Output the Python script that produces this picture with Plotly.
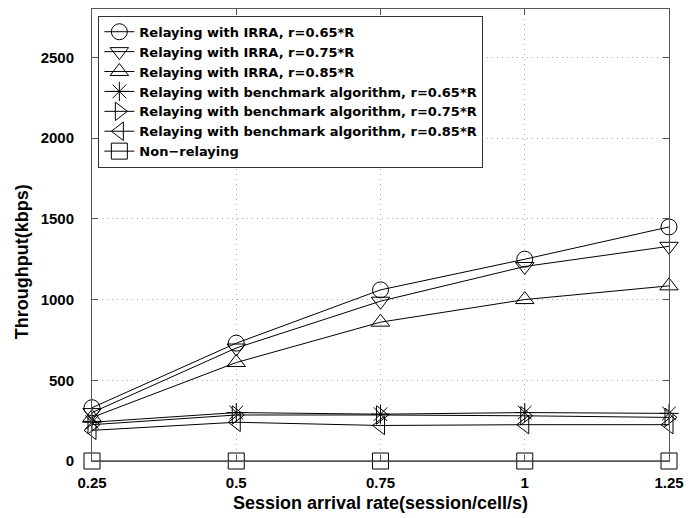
import plotly.graph_objects as go

x_rate = [0.25, 0.5, 0.75, 1.0, 1.25]
x_tick_labels = ["0.25", "0.5", "0.75", "1", "1.25"]
y_ticks = [0, 500, 1000, 1500, 2000, 2500]

series_names = [
    "Relaying with IRRA, r=0.65*R",
    "Relaying with IRRA, r=0.75*R",
    "Relaying with IRRA, r=0.85*R",
    "Relaying with benchmark algorithm, r=0.65*R",
    "Relaying with benchmark algorithm, r=0.75*R",
    "Relaying with benchmark algorithm, r=0.85*R",
    "Non\u2212relaying",
]
irra_065 = [330, 730, 1060, 1250, 1450]
irra_075 = [300, 700, 990, 1205, 1330]
irra_085 = [270, 610, 860, 1000, 1085]
bench_065 = [240, 300, 290, 300, 295]
bench_075 = [225, 285, 285, 280, 270]
bench_085 = [190, 240, 220, 225, 225]
non_relaying = [0, 0, 0, 0, 0]

series_values = [irra_065, irra_075, irra_085, bench_065, bench_075, bench_085, non_relaying]
symbols = ["circle-open", "triangle-down-open", "triangle-up-open", "asterisk-open",
           "triangle-right-open", "triangle-left-open", "square-open"]

fig = go.Figure()
for name, vals, sym in zip(series_names, series_values, symbols):
    fig.add_trace(go.Scatter(
        x=x_rate, y=vals, name=name, mode="lines+markers",
        line=dict(color="black", width=1),
        marker=dict(symbol=sym, size=16, color="black", line=dict(color="black", width=1)),
        cliponaxis=False,
    ))

font_fam = "Liberation Sans, Arial, sans-serif"
legend_fam = "DejaVu Sans, Liberation Sans, sans-serif"
fig.update_layout(
    width=697, height=518,
    margin=dict(l=92, r=28, t=8, b=54),
    paper_bgcolor="white", plot_bgcolor="white",
    font=dict(family=font_fam, color="black", size=15),
    showlegend=True,
    legend=dict(
        x=0.011, y=0.985, xanchor="left", yanchor="top",
        bgcolor="white", bordercolor="#333", borderwidth=1,
        font=dict(family=legend_fam, size=13, color="black", weight="bold"),
        tracegroupgap=0, itemwidth=30,
    ),
    xaxis=dict(
        range=[0.25, 1.25], tickvals=x_rate, ticktext=x_tick_labels,
        showgrid=True, gridcolor="#aaaaaa", griddash="1px,4px", gridwidth=1,
        ticks="inside", ticklen=6, tickcolor="#555", mirror="ticks",
        showline=True, linecolor="#555", linewidth=1, zeroline=False,
        tickfont=dict(size=15, weight="bold"), ticklabelstandoff=8,
        title=dict(text="Session arrival rate(session/cell/s)", font=dict(size=18, weight="bold"), standoff=6),
    ),
    yaxis=dict(
        range=[0, 2800], tickvals=y_ticks,
        showgrid=True, gridcolor="#aaaaaa", griddash="1px,4px", gridwidth=1,
        ticks="inside", ticklen=6, tickcolor="#555", mirror="ticks",
        showline=True, linecolor="#555", linewidth=1, zeroline=False,
        tickfont=dict(size=15, weight="bold"), ticklabelstandoff=14,
    ),
    annotations=[dict(
        text="Throughput(kbps)", textangle=-90, xref="paper", yref="paper",
        x=-0.121, y=0.44, xanchor="center", yanchor="middle", showarrow=False,
        font=dict(size=18, weight="bold", family=font_fam),
    )],
)

fig.write_html("out.html", config={"displayModeBar": False},
               post_script="document.body.style.margin='0';document.body.style.padding='0';")
